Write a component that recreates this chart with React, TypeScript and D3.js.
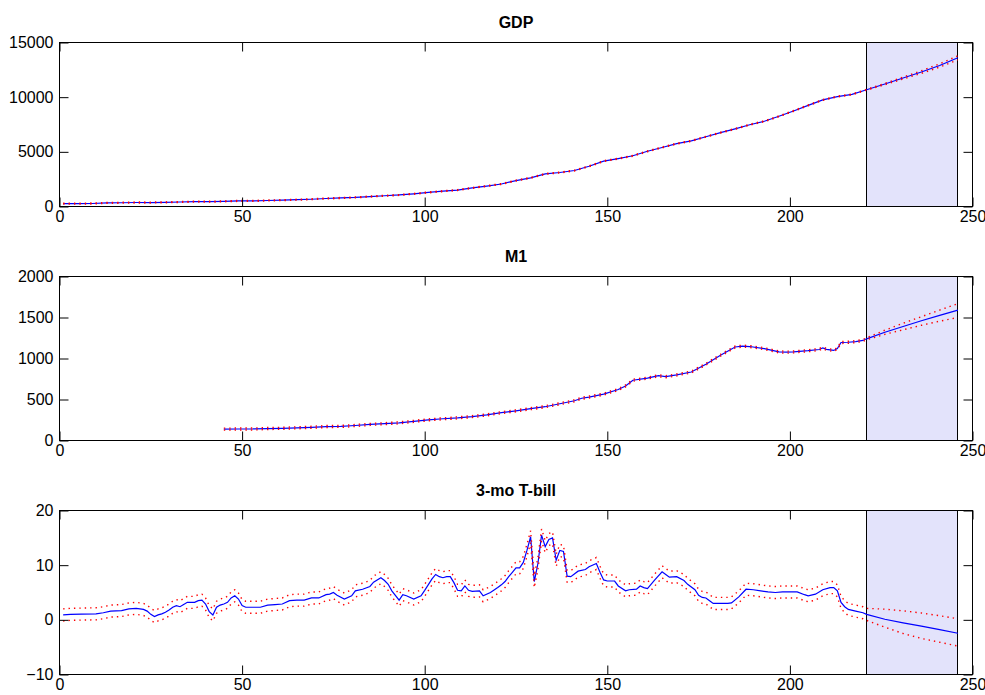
import React, { useEffect, useRef } from "react";
import * as d3 from "d3";

// quarter index, value
const gdpSeries: [number, number][] = [
  [1, 261], [5, 270], [9, 275], [13, 327], [17, 345], [21, 368], [25, 362], [29, 385],
  [33, 412], [37, 440], [41, 437], [45, 475], [49, 510], [53, 510], [57, 550], [61, 580],
  [65, 620], [69, 665], [73, 730], [77, 780], [81, 830], [85, 910], [89, 985], [93, 1055],
  [97, 1160], [101, 1290], [105, 1400], [109, 1500], [113, 1700], [117, 1870], [121, 2060],
  [125, 2370], [129, 2620], [133, 2980], [137, 3110], [141, 3290], [145, 3680], [149, 4150],
  [153, 4380], [157, 4640], [161, 5050], [165, 5400], [169, 5750], [173, 6000], [177, 6380],
  [181, 6750], [185, 7100], [189, 7480], [193, 7800], [197, 8250], [201, 8740], [205, 9250],
  [209, 9750], [213, 10050], [217, 10250], [221, 10680],
];

const m1Series: [number, number][] = [
  [45, 139], [49, 140], [53, 141], [57, 146], [61, 149], [65, 155], [69, 161], [73, 170],
  [77, 172], [81, 183], [85, 196], [89, 205], [93, 216], [97, 233], [101, 252], [105, 265],
  [109, 276], [113, 292], [117, 312], [121, 340], [125, 362], [129, 388], [133, 412],
  [137, 448], [141, 485], [143, 515], [145, 530], [149, 565], [153, 622], [155, 665],
  [157, 735], [161, 760], [164, 790], [166, 778], [169, 800], [173, 835], [177, 930],
  [181, 1040], [185, 1140], [187, 1150], [189, 1146], [193, 1120], [197, 1080], [199, 1077],
  [201, 1080], [205, 1095], [208, 1110], [209, 1128], [210, 1112], [212, 1098], [213, 1120],
  [214, 1195], [216, 1198], [218, 1206], [220, 1220], [221, 1240],
];

const tbillSeries: [number, number][] = [
  [1, 0.9], [3, 1.0], [6, 1.05], [10, 1.1], [12, 1.3], [14, 1.6], [17, 1.7], [19, 2.0],
  [21, 2.1], [23, 1.9], [24, 1.6], [25, 1.0], [26, 0.6], [27, 0.9], [28, 1.1], [29, 1.4],
  [30, 1.8], [31, 2.3], [32, 2.6], [33, 2.4], [34, 2.8], [35, 3.2], [37, 3.2], [38, 3.5],
  [39, 3.6], [40, 2.9], [41, 1.5], [42, 0.9], [43, 2.3], [44, 2.7], [45, 2.9], [46, 3.2],
  [47, 4.0], [48, 4.4], [49, 3.8], [50, 2.6], [51, 2.3], [53, 2.3], [55, 2.3], [57, 2.7],
  [59, 2.8], [61, 2.9], [63, 3.5], [65, 3.6], [67, 3.6], [69, 4.0], [71, 4.0], [73, 4.6],
  [74, 4.7], [75, 5.0], [76, 4.5], [78, 3.8], [80, 4.4], [81, 5.3], [83, 5.6], [85, 6.1],
  [86, 6.9], [88, 7.7], [89, 7.2], [90, 6.5], [91, 5.3], [93, 3.6], [94, 4.6], [95, 4.4],
  [97, 3.8], [99, 4.4], [100, 5.4], [102, 7.5], [103, 8.3], [104, 7.9], [105, 7.7],
  [106, 7.9], [107, 7.9], [108, 6.8], [109, 5.4], [110, 5.3], [111, 6.2], [112, 5.4],
  [113, 5.2], [115, 5.3], [116, 4.4], [118, 5.0], [120, 5.9], [121, 6.4], [122, 7.0],
  [123, 7.9], [124, 8.7], [125, 9.5], [126, 9.5], [127, 10.5], [128, 12.7], [129, 15.2],
  [130, 7.0], [131, 10.3], [132, 15.5], [133, 13.4], [134, 14.7], [135, 15.0], [136, 10.9],
  [137, 12.7], [138, 12.5], [139, 8.0], [140, 7.9], [142, 8.9], [144, 9.2], [145, 9.7],
  [147, 10.3], [148, 8.7], [149, 7.3], [150, 7.1], [152, 7.1], [153, 6.2], [155, 5.3],
  [156, 5.5], [158, 5.6], [159, 6.2], [160, 5.9], [161, 5.7], [163, 7.3], [165, 8.8],
  [166, 8.3], [167, 7.8], [169, 7.9], [171, 7.2], [172, 6.5], [174, 5.5], [175, 4.5],
  [176, 4.1], [177, 4.0], [178, 3.5], [179, 3.0], [181, 3.0], [183, 3.0], [184, 3.1],
  [186, 4.2], [188, 5.6], [190, 5.5], [192, 5.3], [194, 5.1], [196, 5.0], [198, 5.1],
  [200, 5.1], [202, 5.1], [204, 4.6], [205, 4.4], [207, 4.7], [209, 5.5], [211, 5.9],
  [212, 5.9], [213, 5.3], [214, 3.2], [215, 2.4], [216, 1.9], [218, 1.6], [220, 1.3],
  [221, 1.0],
];

// forecast horizon
const forecastQuarter = [221, 226, 231, 236, 241, 246];
const gdpForecast = [10680, 11200, 11750, 12300, 12900, 13600];
const gdpUpper = [10720, 11260, 11840, 12420, 13050, 13780];
const gdpLower = [10640, 11140, 11660, 12180, 12750, 13420];
const m1Forecast = [1240, 1320, 1390, 1460, 1525, 1590];
const m1Upper = [1252, 1345, 1430, 1510, 1590, 1668];
const m1Lower = [1228, 1295, 1350, 1405, 1455, 1500];
const tbillForecast = [1.0, 0.1, -0.55, -1.15, -1.8, -2.45];
const tbillUpper = [2.1, 1.95, 1.65, 1.25, 0.75, 0.2];
const tbillLower = [-0.1, -1.35, -2.5, -3.4, -4.1, -4.8];

// half-width of the in-sample band
const gdpBand = 40;
const m1Band = 12;
const tbillBand = 1.1;

const xTicks = [0, 50, 100, 150, 200, 250];

const panels = [
  {
    title: "GDP", top: 42.5, bottom: 206.5, domain: [0, 15000], ticks: [0, 5000, 10000, 15000],
    history: gdpSeries, band: gdpBand, forecast: gdpForecast, upper: gdpUpper, lower: gdpLower,
  },
  {
    title: "M1", top: 276.5, bottom: 440.5, domain: [0, 2000], ticks: [0, 500, 1000, 1500, 2000],
    history: m1Series, band: m1Band, forecast: m1Forecast, upper: m1Upper, lower: m1Lower,
  },
  {
    title: "3-mo T-bill", top: 510.5, bottom: 674.5, domain: [-10, 20], ticks: [-10, 0, 10, 20],
    history: tbillSeries, band: tbillBand, forecast: tbillForecast, upper: tbillUpper, lower: tbillLower,
  },
];

const FONT = "'Liberation Sans', Arial, Helvetica, sans-serif";

export default function App() {
  const ref = useRef<SVGSVGElement>(null);

  useEffect(() => {
    const svg = d3.select(ref.current);
    svg.selectAll("*").remove();

    const x = d3.scaleLinear().domain([0, 250]).range([59.5, 972.5]);
    const crisp = (v: number) => Math.floor(v) + 0.5;
    const fmt = d3.format("d");

    panels.forEach((p) => {
      const y = d3.scaleLinear().domain(p.domain).range([p.bottom, p.top]);
      const g = svg.append("g");

      const line = d3
        .line<[number, number]>()
        .x((d) => x(d[0]))
        .y((d) => y(d[1]));

      // shaded forecast window
      const f0 = crisp(x(forecastQuarter[0]));
      const f1 = crisp(x(forecastQuarter[forecastQuarter.length - 1]));
      g.append("rect")
        .attr("x", f0)
        .attr("y", p.top)
        .attr("width", f1 - f0)
        .attr("height", p.bottom - p.top)
        .attr("fill", "#e3e3fb")
        .attr("stroke", "#000")
        .attr("stroke-width", 1);

      const fc: [number, number][] = forecastQuarter.map((q, i) => [q, p.forecast[i]]);
      const up: [number, number][] = p.history
        .map(([q, v]) => [q, v + p.band] as [number, number])
        .concat(forecastQuarter.slice(1).map((q, i) => [q, p.upper[i + 1]] as [number, number]));
      const lo: [number, number][] = p.history
        .map(([q, v]) => [q, v - p.band] as [number, number])
        .concat(forecastQuarter.slice(1).map((q, i) => [q, p.lower[i + 1]] as [number, number]));

      g.append("path")
        .attr("d", line(p.history.concat(fc.slice(1))))
        .attr("fill", "none")
        .attr("stroke", "#0000ff")
        .attr("stroke-width", 1.2);

      [up, lo].forEach((band) => {
        g.append("path")
          .attr("d", line(band))
          .attr("fill", "none")
          .attr("stroke", "#ff0000")
          .attr("stroke-width", 1.4)
          .attr("stroke-dasharray", "1.4 4");
      });

      // axes, ticks pointing inward on all four sides
      const styleAxis = (sel: d3.Selection<SVGGElement, unknown, null, undefined>) => {
        sel.select(".domain").remove();
        sel.selectAll("line").attr("stroke", "#000");
        sel.selectAll("text").attr("fill", "#000").style("font-family", FONT).style("font-size", "16px");
      };

      g.append("g")
        .attr("transform", `translate(0,${p.bottom})`)
        .call(d3.axisBottom(x).tickValues(xTicks).tickFormat(fmt).tickSizeInner(-9).tickSizeOuter(0).tickPadding(4))
        .call(styleAxis);
      g.append("g")
        .attr("transform", `translate(0,${p.top})`)
        .call(d3.axisTop(x).tickValues(xTicks).tickSizeInner(-9).tickSizeOuter(0).tickFormat(() => ""))
        .call(styleAxis);
      g.append("g")
        .attr("transform", `translate(${x(0)},0)`)
        .call(d3.axisLeft(y).tickValues(p.ticks).tickFormat(fmt).tickSizeInner(-9).tickSizeOuter(0).tickPadding(6))
        .call(styleAxis);
      g.append("g")
        .attr("transform", `translate(${x(250)},0)`)
        .call(d3.axisRight(y).tickValues(p.ticks).tickSizeInner(-9).tickSizeOuter(0).tickFormat(() => ""))
        .call(styleAxis);

      g.append("rect")
        .attr("x", x(0))
        .attr("y", p.top)
        .attr("width", x(250) - x(0))
        .attr("height", p.bottom - p.top)
        .attr("fill", "none")
        .attr("stroke", "#000")
        .attr("stroke-width", 1);

      g.append("text")
        .attr("x", (x(0) + x(250)) / 2)
        .attr("y", p.top - 15)
        .attr("text-anchor", "middle")
        .style("font-family", FONT)
        .style("font-size", "16px")
        .style("font-weight", "bold")
        .text(p.title);
    });
  }, []);

  return (
    <svg
      ref={ref}
      width={985}
      height={695}
      style={{ position: "absolute", left: 0, top: 0, background: "#fff" }}
    />
  );
}
